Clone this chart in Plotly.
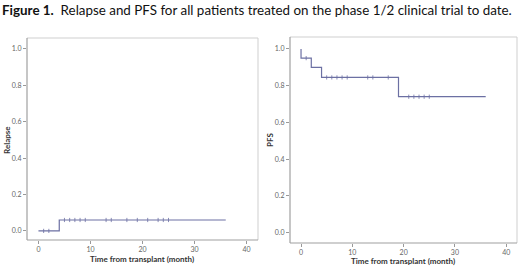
import plotly.graph_objects as go

# Relapse (cumulative incidence) step data
relapse_t = [0, 4, 4, 36]
relapse_v = [0.0, 0.0, 0.06, 0.06]
relapse_cens_t = [1, 2, 5, 6, 7, 8, 9, 13, 14, 17, 19, 21, 23, 24, 25]
relapse_cens_v = [0.0, 0.0] + [0.06] * 13

# PFS step data
pfs_t = [0, 0, 2, 2, 4, 4, 19, 19, 36]
pfs_v = [1.0, 0.95, 0.95, 0.90, 0.90, 0.845, 0.845, 0.74, 0.74]
pfs_cens_t = [1, 5, 6, 7, 8, 9, 13, 14, 17, 21, 22, 23, 24, 25]
pfs_cens_v = [0.95] + [0.845] * 8 + [0.74] * 5

x_ticks = [0, 10, 20, 30, 40]
y_ticks = [0.0, 0.2, 0.4, 0.6, 0.8, 1.0]
y_ticklabels = ["0.0", "0.2", "0.4", "0.6", "0.8", "1.0"]

title_text = "<b>Figure 1.</b>  Relapse and PFS for all patients treated on the phase 1/2 clinical trial to date."
x_title = "Time from transplant (month)"

LINE = "#6c70a3"
fig = go.Figure()

fig.add_trace(go.Scatter(x=relapse_t, y=relapse_v, mode="lines", line=dict(color=LINE, width=1.2),
                         xaxis="x", yaxis="y", hoverinfo="skip"))
fig.add_trace(go.Scatter(x=relapse_cens_t, y=relapse_cens_v, mode="markers",
                         marker=dict(symbol="line-ns", size=3, line=dict(color=LINE, width=0.8)),
                         xaxis="x", yaxis="y", hoverinfo="skip"))
fig.add_trace(go.Scatter(x=pfs_t, y=pfs_v, mode="lines", line=dict(color=LINE, width=1.2),
                         xaxis="x2", yaxis="y2", hoverinfo="skip"))
fig.add_trace(go.Scatter(x=pfs_cens_t, y=pfs_cens_v, mode="markers",
                         marker=dict(symbol="line-ns", size=3, line=dict(color=LINE, width=0.8)),
                         xaxis="x2", yaxis="y2", hoverinfo="skip"))

tickfont = dict(family="Lato, Open Sans, sans-serif", size=7, color="#666")
xax = dict(range=[-2.2, 42.2], tickvals=x_ticks, ticks="outside", ticklen=3, tickcolor="#999",
           showgrid=False, zeroline=False, showline=False, tickfont=tickfont, fixedrange=True)
yax = dict(range=[-0.05, 1.06], tickvals=y_ticks, ticktext=y_ticklabels, ticks="outside", ticklen=3,
           tickcolor="#999", showgrid=False, zeroline=False, showline=False, tickfont=tickfont, fixedrange=True)

L1 = [27 / 520, 258 / 520]
B1 = [1 - 240 / 270, 1 - 38 / 270]
L2 = [290 / 520, 517 / 520]
B2 = [1 - 243 / 270, 1 - 37 / 270]

fig.update_layout(
    width=520, height=270, margin=dict(l=0, r=0, t=0, b=0),
    paper_bgcolor="white", plot_bgcolor="white", showlegend=False,
    xaxis=dict(xax, domain=L1, anchor="y"),
    yaxis=dict(yax, domain=B1, anchor="x"),
    xaxis2=dict(xax, domain=L2, anchor="y2", range=[-2.15, 42.1]),
    yaxis2=dict(yax, domain=B2, anchor="x2", range=[-0.056, 1.065]),
)

# frames: left/bottom darker, top/right lighter
for (xd, yd) in [(L1, B1), (L2, B2)]:
    fig.add_shape(type="line", xref="paper", yref="paper", x0=xd[0], x1=xd[1], y0=yd[1], y1=yd[1],
                  line=dict(color="#cfcfcf", width=1))
    fig.add_shape(type="line", xref="paper", yref="paper", x0=xd[1], x1=xd[1], y0=yd[0], y1=yd[1],
                  line=dict(color="#cfcfcf", width=1))
    fig.add_shape(type="line", xref="paper", yref="paper", x0=xd[0], x1=xd[1], y0=yd[0], y1=yd[0],
                  line=dict(color="#a0a0a0", width=1.2))
    fig.add_shape(type="line", xref="paper", yref="paper", x0=xd[0], x1=xd[0], y0=yd[0], y1=yd[1],
                  line=dict(color="#a0a0a0", width=1.2))

titlefont = dict(family="Lato, Open Sans, sans-serif", size=8, color="#333")
fig.add_annotation(text="<b>" + x_title + "</b>", xref="paper", yref="paper", x=142 / 520, y=1 - 259 / 270,
                   showarrow=False, font=titlefont, xanchor="center", yanchor="middle")
fig.add_annotation(text="<b>" + x_title + "</b>", xref="paper", yref="paper", x=403 / 520, y=1 - 261 / 270,
                   showarrow=False, font=titlefont, xanchor="center", yanchor="middle")
fig.add_annotation(text="<b>Relapse</b>", xref="paper", yref="paper", x=7 / 520, y=1 - 140 / 270,
                   showarrow=False, font=titlefont, textangle=-90, xanchor="center", yanchor="middle")
fig.add_annotation(text="<b>PFS</b>", xref="paper", yref="paper", x=270 / 520, y=1 - 140 / 270,
                   showarrow=False, font=titlefont, textangle=-90, xanchor="center", yanchor="middle")
fig.add_annotation(text=title_text, xref="paper", yref="paper", x=0, y=1 - 10 / 270,
                   showarrow=False, font=dict(family="Lato, Open Sans, sans-serif", size=13.4, color="#111"),
                   xanchor="left", yanchor="middle")

fig.write_html("out.html", config={"displayModeBar": False, "staticPlot": True},
               post_script="document.body.style.margin='0';document.body.style.overflow='hidden';")
